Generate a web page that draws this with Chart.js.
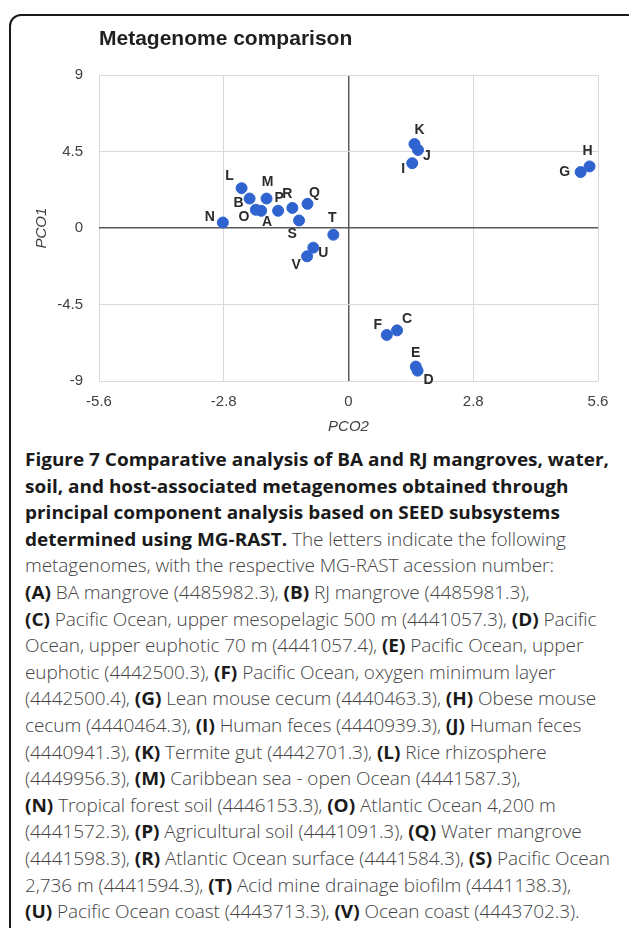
<!DOCTYPE html>
<html>
<head>
<meta charset="utf-8">
<script src="https://cdn.jsdelivr.net/npm/chart.js@4/dist/chart.umd.min.js"></script>
<style>
  html, body { margin: 0; padding: 0; background: #fff; }
  body { width: 629px; height: 928px; position: relative; overflow: hidden; }
  .frame {
    position: absolute; left: 9px; top: 14px; width: 640px; height: 940px;
    border: 2px solid #1a1a1a; border-radius: 12px; box-sizing: border-box;
  }
  #wrap { position: absolute; left: 0; top: 0; width: 629px; height: 440px; }
  .caption {
    position: absolute; left: 25px; top: 446px;
    font-family: "Open Sans", "Noto Sans", sans-serif;
    font-size: 18px; line-height: 26.6px; color: #444;
    font-weight: 300; letter-spacing: -0.05px;
    white-space: nowrap; transform-origin: 0 0;
  }
  .caption b { color: #1a1a1a; font-weight: 700; letter-spacing: 0; }
</style>
</head>
<body>
<div class="frame"></div>
<div id="wrap"><canvas id="chart"></canvas></div>
<div class="caption" id="caption">
<b>Figure 7 Comparative analysis of BA and RJ mangroves, water,</b><br>
<b>soil, and host-associated metagenomes obtained through</b><br>
<b>principal component analysis based on SEED subsystems</b><br>
<b>determined using MG-RAST.</b> The letters indicate the following<br>
metagenomes, with the respective MG-RAST acession number:<br>
<b>(A)</b> BA mangrove (4485982.3), <b>(B)</b> RJ mangrove (4485981.3),<br>
<b>(C)</b> Pacific Ocean, upper mesopelagic 500 m (4441057.3), <b>(D)</b> Pacific<br>
Ocean, upper euphotic 70 m (4441057.4), <b>(E)</b> Pacific Ocean, upper<br>
euphotic (4442500.3), <b>(F)</b> Pacific Ocean, oxygen minimum layer<br>
(4442500.4), <b>(G)</b> Lean mouse cecum (4440463.3), <b>(H)</b> Obese mouse<br>
cecum (4440464.3), <b>(I)</b> Human feces (4440939.3), <b>(J)</b> Human feces<br>
(4440941.3), <b>(K)</b> Termite gut (4442701.3), <b>(L)</b> Rice rhizosphere<br>
(4449956.3), <b>(M)</b> Caribbean sea - open Ocean (4441587.3),<br>
<b>(N)</b> Tropical forest soil (4446153.3), <b>(O)</b> Atlantic Ocean 4,200 m<br>
(4441572.3), <b>(P)</b> Agricultural soil (4441091.3), <b>(Q)</b> Water mangrove<br>
(4441598.3), <b>(R)</b> Atlantic Ocean surface (4441584.3), <b>(S)</b> Pacific Ocean<br>
2,736 m (4441594.3), <b>(T)</b> Acid mine drainage biofilm (4441138.3),<br>
<b>(U)</b> Pacific Ocean coast (4443713.3), <b>(V)</b> Ocean coast (4443702.3).
</div>
<script>
// metagenome letters and their PCO coordinates
const sampleLabels = ['A','B','C','D','E','F','G','H','I','J','K','L','M','N','O','P','Q','R','S','T','U','V'];
const pco2Values = [-1.96, -2.22, 1.09, 1.55, 1.51, 0.86, 5.21, 5.41, 1.43, 1.56, 1.48, -2.40, -1.84, -2.82, -2.08, -1.58, -0.92, -1.26, -1.11, -0.34, -0.79, -0.93];
const pco1Values = [1.02, 1.74, -6.02, -8.39, -8.15, -6.29, 3.30, 3.63, 3.82, 4.60, 4.95, 2.35, 1.74, 0.33, 1.08, 1.02, 1.43, 1.19, 0.45, -0.39, -1.15, -1.66];
const xTickValues = [-5.6, -2.8, 0, 2.8, 5.6];
const yTickValues = [-9, -4.5, 0, 4.5, 9];

// where each letter sits relative to its point (px)
const labelOffsets = [
    [6, 11], [-11, 5], [10, -11], [11, 10], [0, -13], [-9, -10], [-16, 0], [-2, -15],
    [-9, 6], [9, 6], [5, -14], [-12, -12], [1, -16], [-13, -5], [-12, 7], [1, -13],
    [7, -11], [-5, -14], [-7, 14], [-1, -17], [10, 6], [-11, 9]
];

const points = pco2Values.map((x, i) => ({ x: x, y: pco1Values[i] }));

const pointLabels = {
    id: 'pointLabels',
    afterDatasetsDraw(chart) {
        const ctx = chart.ctx;
        const meta = chart.getDatasetMeta(0);
        ctx.save();
        ctx.font = 'bold 14px "Liberation Sans", Arial, sans-serif';
        ctx.fillStyle = '#2b2b2b';
        ctx.textAlign = 'center';
        ctx.textBaseline = 'middle';
        meta.data.forEach((el, i) => {
            const off = labelOffsets[i];
            ctx.fillText(sampleLabels[i], el.x + off[0], el.y + off[1]);
        });
        ctx.restore();
    }
};

const gridColor = (ctx) => ctx.tick && ctx.tick.value === 0 ? '#5a5a5a' : '#d9d9d9';
const gridWidth = (ctx) => ctx.tick && ctx.tick.value === 0 ? 1.5 : 1;

new Chart(document.getElementById('chart'), {
    type: 'scatter',
    data: {
        datasets: [{
            label: 'Metagenomes',
            data: points,
            backgroundColor: '#2f63cf',
            borderColor: '#2f63cf',
            pointRadius: 5.5,
            pointHoverRadius: 5.5
        }]
    },
    options: {
        responsive: true,
        maintainAspectRatio: false,
        animation: false,
        layout: { padding: { left: 0, right: 31, top: 0, bottom: 0 } },
        plugins: {
            legend: { display: false },
            tooltip: { enabled: false },
            title: {
                display: true,
                text: 'Metagenome comparison',
                align: 'start',
                fullSize: false,
                color: '#1f1f1f',
                font: { family: '"Liberation Sans", Arial, sans-serif', size: 21, weight: 'bold' },
                padding: { top: 27, bottom: 23 }
            }
        },
        scales: {
            x: {
                type: 'linear',
                min: -5.6,
                max: 5.6,
                afterBuildTicks: (s) => { s.ticks = xTickValues.map(v => ({ value: v })); },
                afterFit: (s) => { s.height = 59; },
                border: { display: false },
                grid: { color: gridColor, lineWidth: gridWidth, drawTicks: false },
                ticks: {
                    padding: 12,
                    color: '#404040',
                    font: { family: '"Liberation Sans", Arial, sans-serif', size: 15 },
                    callback: (v) => String(v)
                },
                title: {
                    display: true,
                    text: 'PCO2',
                    color: '#404040',
                    font: { family: '"Liberation Sans", Arial, sans-serif', size: 15, style: 'italic' },
                    padding: { top: 0, bottom: 4 }
                }
            },
            y: {
                type: 'linear',
                min: -9,
                max: 9,
                afterBuildTicks: (s) => { s.ticks = yTickValues.map(v => ({ value: v })); },
                afterFit: (s) => { s.width = 99; },
                border: { display: false },
                grid: { color: gridColor, lineWidth: gridWidth, drawTicks: false },
                ticks: {
                    padding: 16,
                    color: '#404040',
                    font: { family: '"Liberation Sans", Arial, sans-serif', size: 15 },
                    callback: (v) => String(v)
                },
                title: {
                    display: true,
                    text: 'PCO1',
                    color: '#404040',
                    font: { family: '"Liberation Sans", Arial, sans-serif', size: 15, style: 'italic' },
                    padding: { top: 33, bottom: 0 }
                }
            }
        }
    },
    plugins: [pointLabels]
});

// squeeze the caption to the width of the printed column
const cap = document.getElementById('caption');
const firstLine = cap.querySelector('b');
const w = firstLine.getBoundingClientRect().width;
if (w > 0) cap.style.transform = 'scaleX(' + (584 / w) + ')';
</script>
</body>
</html>
